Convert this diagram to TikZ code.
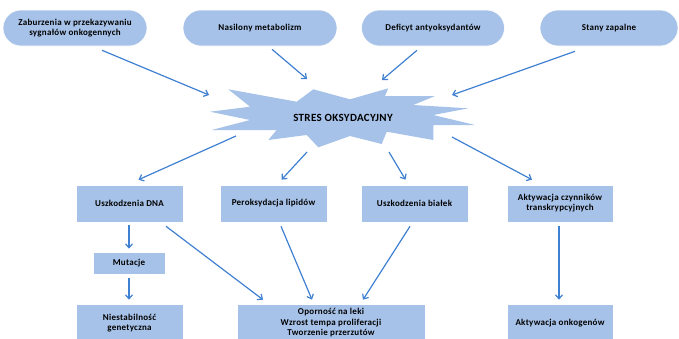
\documentclass[tikz,border=0pt]{standalone}
\usepackage{fontspec}
\setmainfont{Carlito}[LetterSpace=3]
\usetikzlibrary{arrows.meta,calc}
\definecolor{boxfill}{HTML}{A7C2E8}
\definecolor{arrowblue}{HTML}{3F80D2}
\begin{document}
\begin{tikzpicture}[x=1pt,y=-1pt,
  every node/.style={font=\bfseries\fontsize{9}{10}\selectfont, align=center, text=black},
  pill/.style={fill=boxfill, draw=white, line width=0.6pt, rounded corners=18pt, minimum height=36pt, inner sep=0pt},
  boxy/.style={fill=boxfill, draw=white, line width=0.6pt, minimum height=37pt, inner sep=0pt},
  arr/.style={draw=arrowblue, line width=1.2pt, -{Straight Barb[length=4pt,width=7pt]}}]
\useasboundingbox (0,0) rectangle (679,338);
\begin{scope}
\clip (0,0) rectangle (679,338);
% top pills
\node[pill, minimum width=144pt] (p1) at (75,28) {Zaburzenia w przekazywaniu\\sygnałów onkogennych};
\node[pill, minimum width=154pt] (p2) at (260,28) {Nasilony metabolizm};
\node[pill, minimum width=143pt] (p3) at (433,28) {Deficyt antyoksydantów};
\node[pill, minimum width=138pt] (p4) at (609,28) {Stany zapalne};
% star
\fill[boxfill] (210,111.7) -- (250,106.7) -- (228.3,89.3) -- (296.7,101.7) -- (313.3,89.3)
  -- (350,99.3) -- (388.3,88.3) -- (385,96) -- (435,96) -- (413.3,105) -- (468.3,108.3)
  -- (433.3,115) -- (475,125) -- (433.3,125) -- (433.3,140) -- (386.7,131.7) -- (381.7,144)
  -- (350,136) -- (318.3,147.3) -- (306.7,135) -- (268.3,140) -- (276.7,130) -- (211.7,130)
  -- (250,120) -- cycle;
\node[font=\bfseries\fontsize{11}{12}\selectfont] (st) at (343,118) {STRES OKSYDACYJNY};
\coordinate (in1) at (209,95);
\coordinate (in2) at (307,79);
\coordinate (in3) at (382,80);
\coordinate (in4) at (452,95);
\coordinate (o1) at (236,136);
\coordinate (o2) at (307,152);
\coordinate (o3) at (389,152);
\coordinate (o4) at (452,137);
% second row
\node[boxy, minimum width=107pt] (dna) at (129.5,203.5) {Uszkodzenia DNA};
\node[boxy, minimum width=107pt] (lip) at (273.5,203.5) {Peroksydacja lipidów};
\node[boxy, minimum width=107pt] (bia) at (414.5,203.5) {Uszkodzenia białek};
\node[boxy, minimum width=106pt] (akt) at (560,203.5) {Aktywacja czynników\\transkrypcyjnych};
% lower
\node[boxy, minimum width=72pt, minimum height=22pt] (mut) at (129,263) {Mutacje};
\node[boxy, minimum width=107pt, minimum height=38pt, font=\bfseries\fontsize{9}{10.5}\selectfont] (nie) at (129.5,323) {Niestabilność\\genetyczna};
\node[boxy, minimum width=188pt, minimum height=38pt, font=\bfseries\fontsize{9}{10.5}\selectfont] (opo) at (331,323) {Oporność na leki\\Wzrost tempa proliferacji\\Tworzenie przerzutów};
\node[boxy, minimum width=106pt, minimum height=38pt] (onk) at (560,323) {Aktywacja onkogenów};
\end{scope}
% arrows into star
\draw[arr] ($(p1.south)+(27,4)$) -- (in1);
\draw[arr] ($(p2.south)+(12,3)$) -- (in2);
\draw[arr] ($(p3.south)+(-16,4)$) -- (in3);
\draw[arr] ($(p4.south)+(-34,5)$) -- (in4);
% arrows out of star
\draw[arr] (o1) -- ($(dna.north)+(9,-5)$);
\draw[arr] (o2) -- ($(lip.north)+(8,-5)$);
\draw[arr] (o3) -- ($(bia.north)+(-9,-5)$);
\draw[arr] (o4) -- ($(akt.north)+(-28,-5)$);
% lower arrows
\draw[arr] ($(dna.south)+(-0.5,3)$) -- ($(mut.north)+(0,-3)$);
\draw[arr] ($(mut.south)+(0,4)$) -- ($(nie.north)+(-0.5,-4)$);
\draw[arr] ($(dna.south)+(36.5,4)$) -- ($(opo.north)+(-68,-4)$);
\draw[arr] ($(lip.south)+(7.5,4)$) -- ($(opo.north)+(-19,-4)$);
\draw[arr] ($(bia.south)+(-4.5,4)$) -- ($(opo.north)+(32,-4)$);
\draw[arr] ($(akt.south)+(-1,4)$) -- ($(onk.north)+(-1,-4)$);
\end{tikzpicture}
\end{document}
